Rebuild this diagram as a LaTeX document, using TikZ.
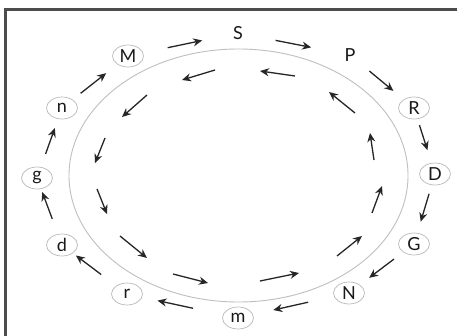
\documentclass[tikz,border=0pt]{standalone}
\usepackage{fontspec}
\setmainfont{Lato}
\usetikzlibrary{arrows.meta,shapes.geometric}
\tikzset{
  lbl/.style={font=\fontsize{18}{18}\selectfont, inner sep=0pt, text=black!90},
  circ/.style={lbl, ellipse, draw=gray!55, line width=0.7pt, minimum width=31pt, minimum height=22pt},
  arr/.style={draw=black!85, line width=1.3pt, -{Stealth[length=9pt,width=8pt]}},
  frame/.style={draw=black!70, line width=3pt},
  ring/.style={draw=gray!50, line width=0.9pt}
}
\newcommand{\oarr}[4]{\draw[arr, shorten <=#3pt, shorten >=#4pt] (#1.center) -- (#2.center);}
\begin{document}
\begin{tikzpicture}[x=1pt,y=-1pt]
\useasboundingbox (0,0) rectangle (457,336);
\fill[white] (0,0) rectangle (457,336);
\draw[frame] (5,336) -- (5,10) -- (458,10);
\draw[ring] (238.5,175.5) ellipse [x radius=169.5, y radius=126.5];
% outer labels
\node[lbl]  (nS) at (238,33) {S};
\node[lbl]  (nP) at (350,55) {P};
\node[circ] (nR) at (414,108) {R};
\node[circ] (nD) at (435,174) {D};
\node[circ] (nG) at (414,244) {G};
\node[circ] (nN) at (349,293) {N};
\node[circ] (lm) at (238,318) {m};
\node[circ] (lr) at (127,294) {r};
\node[circ] (ld) at (62,245) {d};
\node[circ] (lg) at (37,178) {g};
\node[circ] (ln) at (62,108) {n};
\node[circ] (nM) at (128,56) {M};
% outer arrows (clockwise)
\oarr{nM}{nS}{40.5}{36.6}
\oarr{nS}{nP}{38.3}{39.6}
\oarr{nP}{nR}{25.2}{26.8}
\oarr{nR}{nD}{18}{25}
\oarr{nD}{nG}{20.6}{23.3}
\oarr{nG}{nN}{25}{25.2}
\oarr{nN}{lm}{41.9}{36.2}
\oarr{lm}{lr}{46}{31.2}
\oarr{lr}{ld}{32.4}{17.4}
\oarr{ld}{lg}{27.9}{15}
\oarr{lg}{ln}{25.6}{21.3}
\oarr{ln}{nM}{23.7}{27.8}
% inner arrows (counter-clockwise)
\coordinate (a1) at (295,76);  \coordinate (b1) at (260,71);
\coordinate (a2) at (215,70);  \coordinate (b2) at (182,80);
\coordinate (a3) at (147,95);  \coordinate (b3) at (122,117);
\coordinate (a4) at (105,138); \coordinate (b4) at (95,163);
\coordinate (a5) at (97,189);  \coordinate (b5) at (107,214);
\coordinate (a6) at (120,236); \coordinate (b6) at (147,258);
\coordinate (a7) at (173,274); \coordinate (b7) at (208,283);
\coordinate (a8) at (260,281); \coordinate (b8) at (299,273);
\coordinate (a9) at (337,256); \coordinate (b9) at (362,236);
\coordinate (a10) at (372,213); \coordinate (b10) at (382,186);
\coordinate (a11) at (374,160); \coordinate (b11) at (370,133);
\coordinate (a12) at (355,113); \coordinate (b12) at (329,92);
\foreach \i in {1,...,12} {\draw[arr] (a\i) -- (b\i);}
\end{tikzpicture}
\end{document}
